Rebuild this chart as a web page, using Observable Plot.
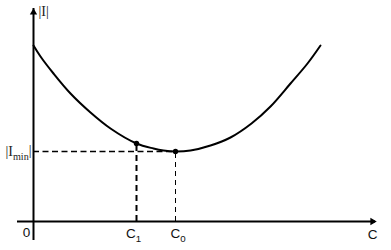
<!DOCTYPE html>
<html>
<head>
<meta charset="utf-8">
<script src="https://cdn.jsdelivr.net/npm/d3@7"></script>
<script src="https://cdn.jsdelivr.net/npm/@observablehq/plot@0.6"></script>
<style>
  html, body { margin: 0; padding: 0; background: #fff; }
  #chart svg { display: block; }
</style>
</head>
<body>
<div id="chart"></div>
<script>
// Curve |I| as function of C (arbitrary units)
const curveC = [0, 7, 20, 37, 57, 77, 103, 120, 130, 142, 157, 177, 197, 218, 237, 257, 274, 287];
const curveI = [176, 165, 148, 128, 109, 93, 78, 73, 71, 70, 71, 76, 84, 98, 115, 138, 158, 176];

// Marked points C1 and C0
const markC = [103, 142];
const markI = [78, 70];

// Labels
const labelText = ["|I|", "|I_{min}|", "0", "C_1", "C_0", "C"];
const labelC    = [5, -2, -7, 100, 144.5, 339];
const labelI    = [209.5, 69.5, -11.5, -12.5, -12.5, -13.5];
const labelFont = ["serif", "serif", "sans", "sans", "sans", "sans"];

const curve = curveC.map((c, i) => ({c, v: curveI[i]}));
const marks = markC.map((c, i) => ({c, v: markI[i]}));
const labels = labelText.map((t, i) => ({t, c: labelC[i], v: labelI[i], f: labelFont[i]}));

const serif = "'Liberation Serif', 'Times New Roman', serif";
const sans = "'Liberation Sans', Arial, sans-serif";

const plot = Plot.plot({
  width: 391,
  height: 250,
  marginLeft: 33,
  marginRight: 8,
  marginTop: 5,
  marginBottom: 29,
  x: {domain: [0, 350], axis: null},
  y: {domain: [0, 216], axis: null},
  style: {background: "#fff", overflow: "visible"},
  marks: [
    // axes
    Plot.ruleY([0], {x1: -16, x2: 342, stroke: "black", strokeWidth: 2}),
    Plot.ruleX([0], {y1: -19, y2: 213, stroke: "black", strokeWidth: 2}),
    Plot.dot([{c: 0, v: 209}], {x: "c", y: "v", symbol: "triangle2", r: 3.5, fill: "black", stroke: "none"}),
    Plot.dot([{c: 339, v: 0}], {x: "c", y: "v", symbol: "triangle2", r: 3.5, fill: "black", stroke: "none", rotate: 90}),
    // dashed guides
    Plot.ruleY([marks[1]], {y: "v", x1: 0, x2: "c", stroke: "black", strokeWidth: 1.6, strokeDasharray: "6,3.5"}),
    Plot.ruleX([marks[0]], {x: "c", y1: 0, y2: "v", stroke: "black", strokeWidth: 2, strokeDasharray: "6,4"}),
    Plot.ruleX([marks[1]], {x: "c", y1: 0, y2: "v", stroke: "black", strokeWidth: 1, strokeDasharray: "5,4"}),
    // curve
    Plot.line(curve, {x: "c", y: "v", curve: "catmull-rom", stroke: "black", strokeWidth: 2}),
    Plot.dot(marks, {x: "c", y: "v", r: 2.7, fill: "black", stroke: "none"}),
    // labels
    Plot.text(labels.filter(d => d.f === "serif"), {x: "c", y: "v", text: "t", fontFamily: serif, fontSize: 14, fill: "#222"}),
    Plot.text(labels.filter(d => d.f === "sans"), {x: "c", y: "v", text: "t", textAnchor: "middle", fontFamily: sans, fontSize: 13.5, fill: "#111"})
  ]
});

// anchors for serif labels and subscripts
d3.select(plot).selectAll("text").each(function() {
  const el = d3.select(this);
  const s = this.textContent;
  if (s === "|I|") el.attr("text-anchor", "start");
  if (s === "|I_{min}|") el.attr("text-anchor", "end");
  const m = s.match(/^(.*?)_\{?([^}|]*)\}?(.*)$/);
  if (m) {
    const base = m[1], sub = m[2], rest = m[3];
    el.text(null);
    el.append("tspan").text(base);
    el.append("tspan").attr("dy", "0.35em").attr("font-size", "0.72em").text(sub);
    if (rest) el.append("tspan").attr("dy", "-0.35em").text(rest);
  }
});

document.getElementById("chart").appendChild(plot);
</script>
</body>
</html>
